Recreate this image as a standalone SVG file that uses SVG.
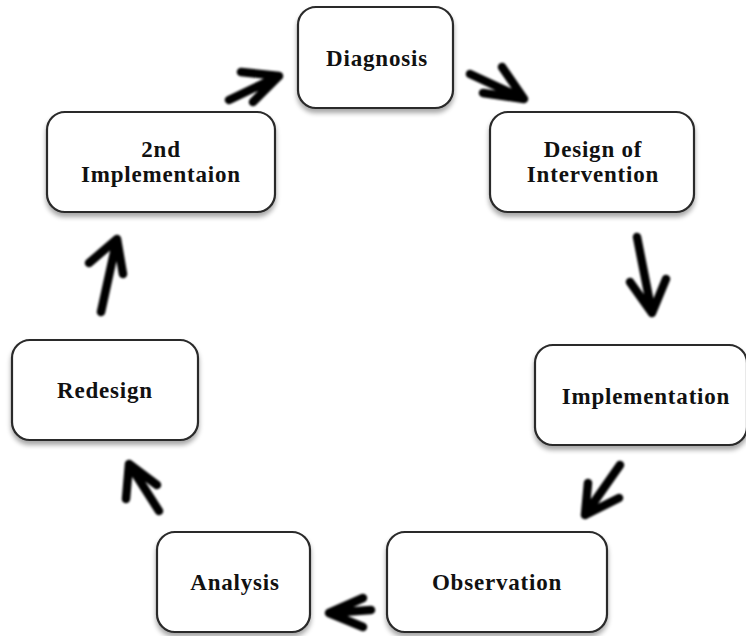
<svg xmlns="http://www.w3.org/2000/svg" width="746" height="636" viewBox="0 0 746 636">
  <defs>
    <filter id="boxShadow" x="-10%" y="-10%" width="120%" height="130%">
      <feGaussianBlur in="SourceAlpha" stdDeviation="2.5"/>
      <feOffset dx="0" dy="4" result="blur"/>
      <feComponentTransfer><feFuncA type="linear" slope="0.35"/></feComponentTransfer>
      <feMerge><feMergeNode/><feMergeNode in="SourceGraphic"/></feMerge>
    </filter>
    <filter id="soft" x="-20%" y="-20%" width="140%" height="140%">
      <feGaussianBlur stdDeviation="1"/>
    </filter>
    <style>
      .box { fill: #ffffff; stroke: #2a2a2a; stroke-width: 2.2; filter: url(#boxShadow); }
      .label { font-family: "Liberation Serif", "Times New Roman", serif; font-weight: bold; font-size: 23px; fill: #111111; text-anchor: middle; letter-spacing: 0.8px; }
      .arrow { fill: none; stroke: #000000; stroke-width: 8.5; stroke-linecap: round; stroke-linejoin: round; }
    </style>
  </defs>

  <rect width="746" height="636" fill="#ffffff"/>

  <g id="diagnosis">
    <rect class="box" x="298" y="7" width="155" height="101" rx="18"/>
    <text class="label" x="377" y="66">Diagnosis</text>
  </g>

  <g id="design-of-intervention">
    <rect class="box" x="490" y="112" width="204" height="100" rx="18"/>
    <text class="label" x="593" y="157">Design of</text>
    <text class="label" x="593" y="182">Intervention</text>
  </g>

  <g id="implementation">
    <rect class="box" x="535" y="345" width="212" height="100" rx="18"/>
    <text class="label" x="646" y="404">Implementation</text>
  </g>

  <g id="observation">
    <rect class="box" x="387" y="532" width="220" height="100" rx="18"/>
    <text class="label" x="497" y="590">Observation</text>
  </g>

  <g id="analysis">
    <rect class="box" x="157" y="532" width="153" height="100" rx="18"/>
    <text class="label" x="235" y="590">Analysis</text>
  </g>

  <g id="redesign">
    <rect class="box" x="12" y="340" width="186" height="100" rx="18"/>
    <text class="label" x="105" y="398">Redesign</text>
  </g>

  <g id="second-implementation">
    <rect class="box" x="47" y="112" width="228" height="100" rx="18"/>
    <text class="label" x="161" y="157">2nd</text>
    <text class="label" x="161" y="182">Implementaion</text>
  </g>

  <g id="connectors" filter="url(#soft)">
    <!-- Diagnosis to Design of Intervention -->
    <path class="arrow" d="M470 74 L524 99 M502 67 L524 99 L483 93"/>
    <!-- Design of Intervention to Implementation -->
    <path class="arrow" d="M637 237 L652 313 M630 282 L652 313 L666 279"/>
    <!-- Implementation to Observation -->
    <path class="arrow" d="M620 465 L585 515 M588 483 L585 515 L619 498"/>
    <!-- Observation to Analysis -->
    <path class="arrow" d="M371 610 L329 613 M363 598 L329 613 L363 627"/>
    <!-- Analysis to Redesign -->
    <path class="arrow" d="M159 511 L129 464 M126 499 L129 464 L157 485"/>
    <!-- Redesign to 2nd Implementation -->
    <path class="arrow" d="M101 312 L117 239 M89 263 L117 239 L123 274"/>
    <!-- 2nd Implementation to Diagnosis -->
    <path class="arrow" d="M229 100 L279 76 M241 72 L279 76 L253 102"/>
  </g>
</svg>
